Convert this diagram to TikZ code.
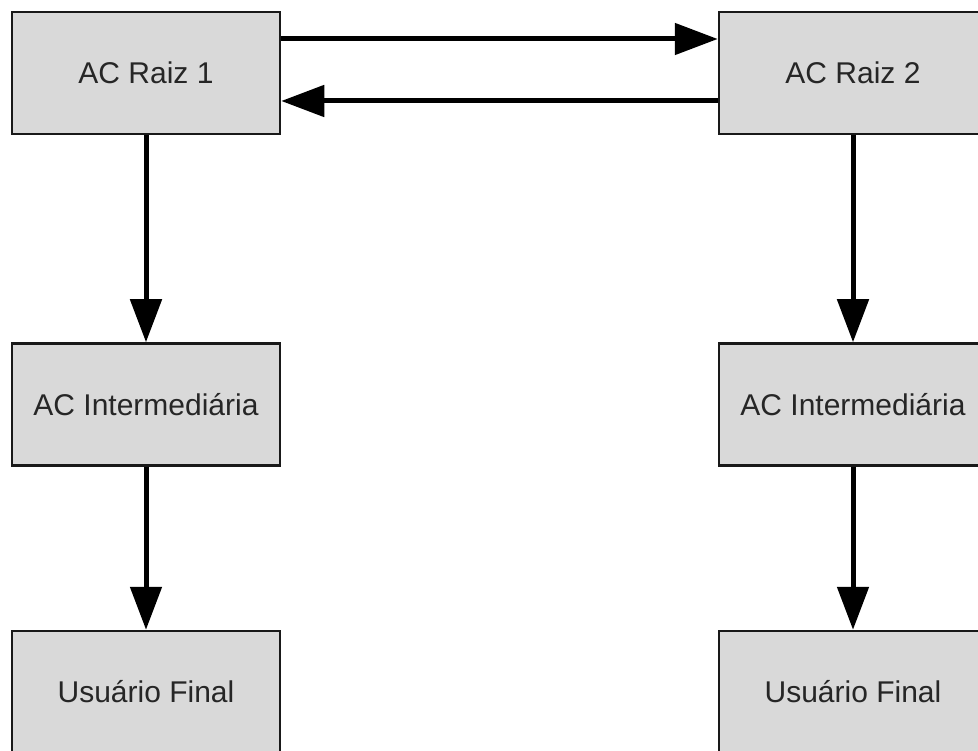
\documentclass[tikz,border=0pt]{standalone}
\usepackage{fontspec}
\setmainfont{Liberation Sans}
\usetikzlibrary{arrows.meta}
\begin{document}
\begin{tikzpicture}[x=1pt,y=-1pt,
  acbox/.style={draw=black!90, line width=2.5pt, fill=gray!30,
    minimum width=268pt, minimum height=122pt, inner sep=0pt,
    font=\fontsize{30}{36}\selectfont, text=black!85},
  link/.style={line width=5pt, -{Triangle[length=43pt,width=31pt]}}]
\useasboundingbox (0,0) rectangle (978,751);
\clip (0,0) rectangle (978,751);
% first hierarchy
\node[acbox] (r1) at (146,73) {AC Raiz 1};
\node[acbox] (i1) at (146,404.5) {AC Intermediária};
\node[acbox] (u1) at (146,692) {Usuário Final};
% second hierarchy
\node[acbox] (r2) at (853,73) {AC Raiz 2};
\node[acbox] (i2) at (853,404.5) {AC Intermediária};
\node[acbox] (u2) at (853,692) {Usuário Final};
% cross certification between the roots
\draw[link] (r1.east |- 0,39) -- (r2.west |- 0,39);
\draw[link] (r2.west |- 0,101) -- (r1.east |- 0,101);
% chains down to the end users
\draw[link] (r1) -- (i1);
\draw[link] (i1) -- (u1);
\draw[link] (r2) -- (i2);
\draw[link] (i2) -- (u2);
\end{tikzpicture}
\end{document}
